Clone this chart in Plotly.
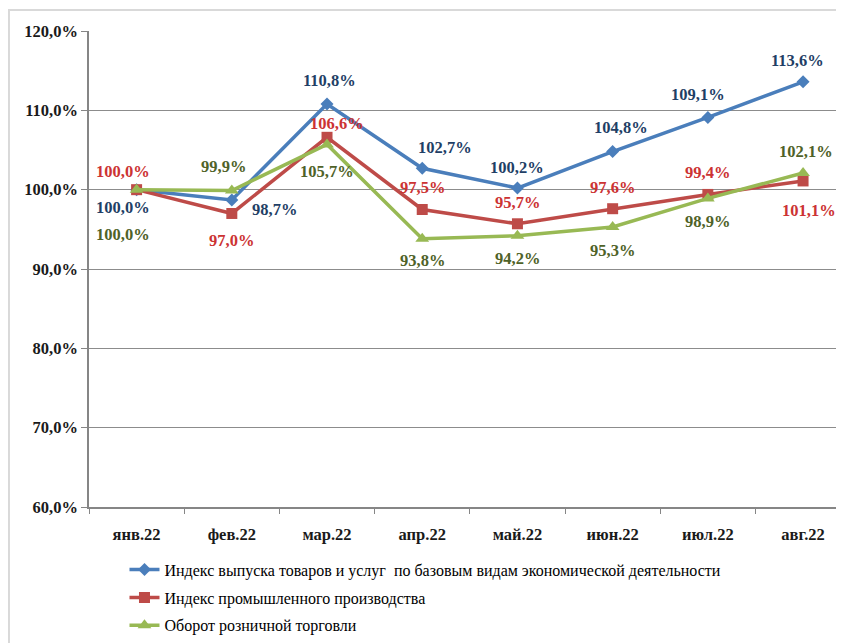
import plotly.graph_objects as go

months = ["янв.22", "фев.22", "мар.22", "апр.22", "май.22", "июн.22", "июл.22", "авг.22"]
names = [
    "Индекс выпуска товаров и услуг  по базовым видам экономической деятельности",
    "Индекс промышленного производства",
    "Оборот розничной торговли",
]
output_index = [100.0, 98.7, 110.8, 102.7, 100.2, 104.8, 109.1, 113.6]
industrial_index = [100.0, 97.0, 106.6, 97.5, 95.7, 97.6, 99.4, 101.1]
retail_turnover = [100.0, 99.9, 105.7, 93.8, 94.2, 95.3, 98.9, 102.1]

series = [output_index, industrial_index, retail_turnover]
line_colors = ["#4A7EBB", "#BE4B48", "#98B954"]
label_colors = ["#1F3F66", "#CC3333", "#4F6228"]
symbols = ["diamond", "square", "triangle-up"]
marker_sizes = [10, 11, 12]

# label offsets in pixels (xshift, yshift)
offsets = [
    [(-14, -18), (43, -10), (2, 23), (23, 21), (0, 21), (8, 24), (-10, 23), (-6, 21)],
    [(-14, 18), (0, -27), (10, 14), (0, 22), (0, 21), (0, 21), (0, 22), (6, -30)],
    [(-14, -45), (-8, 24), (0, -27), (0, -22), (0, -23), (0, -24), (0, -23), (3, 22)],
]

FONT = "Liberation Serif"

fig = go.Figure()
for i, (vals, name, lc, sym, ms) in enumerate(zip(series, names, line_colors, symbols, marker_sizes)):
    fig.add_trace(go.Scatter(
        x=months, y=vals, name=name, mode="lines+markers",
        legendgroup=f"g{i}",
        line=dict(color=lc, width=3.5),
        marker=dict(symbol=sym, size=ms, color=lc),
    ))

annotations = []
for vals, lab_c, offs in zip(series, label_colors, offsets):
    for m, v, (dx, dy) in zip(months, vals, offs):
        annotations.append(dict(
            x=m, y=v, xref="x", yref="y",
            text="<b>" + f"{v:.1f}".replace(".", ",") + "%</b>",
            showarrow=False, xshift=dx, yshift=dy,
            font=dict(family=FONT, size=16.5, color=lab_c),
        ))

fig.update_layout(
    width=836, height=635,
    margin=dict(l=81, r=0, t=23, b=136),
    paper_bgcolor="white", plot_bgcolor="white",
    font=dict(family=FONT),
    separators=",.",
    showlegend=True,
    legend=dict(
        x=0.047, y=-0.096, xanchor="left", yanchor="top",
        font=dict(family=FONT, size=16, color="#000000"),
        bgcolor="rgba(0,0,0,0)", tracegroupgap=4,
    ),
    annotations=annotations,
    shapes=[dict(
        type="rect", xref="paper", yref="paper",
        x0=-0.106, x1=1.05, y0=-0.5, y1=1.044,
        line=dict(color="#D9D9D9", width=2), layer="below",
    )],
    xaxis=dict(
        type="category", range=[-0.5, 7.43],
        showgrid=False, showline=True, linecolor="#868686", linewidth=1.5,
        ticks="outside", tickson="boundaries", ticklen=5, tickcolor="#868686",
        ticklabelstandoff=11,
        tickfont=dict(family=FONT, size=16.5, color="#1A1A1A", weight="bold"),
    ),
    yaxis=dict(
        range=[60, 120], dtick=10, tickformat=".1f", ticksuffix="%",
        showgrid=True, gridcolor="#8C8C8C", gridwidth=1.2,
        showline=True, linecolor="#868686", linewidth=1.5,
        ticks="outside", ticklen=6, tickcolor="#868686",
        tickfont=dict(family=FONT, size=16.5, color="#1A1A1A", weight="bold"),
        zeroline=False,
    ),
)

fig.write_html("out.html")
